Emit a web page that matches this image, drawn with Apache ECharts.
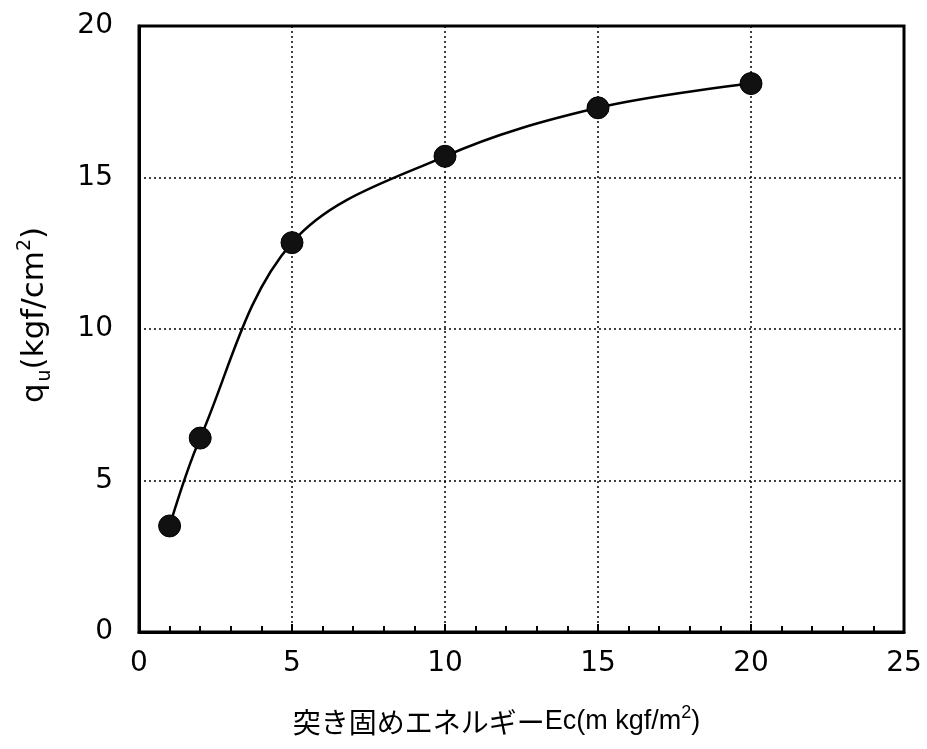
<!DOCTYPE html>
<html>
<head>
<meta charset="utf-8">
<script src="https://cdn.jsdelivr.net/npm/echarts@6/dist/echarts.min.js"></script>
<style>
  html, body { margin: 0; padding: 0; background: #fff; }
  #chart { width: 927px; height: 749px; }
</style>
</head>
<body>
<div id="chart"></div>
<script>
// Compaction energy vs. unconfined compressive strength
const energy = [1, 2, 5, 10, 15, 20];                  // Ec (m kgf/m2)
const strength = [3.5, 6.4, 12.85, 15.7, 17.3, 18.1];  // qu (kgf/cm2)
const xTicks = [0, 5, 10, 15, 20, 25];
const yTicks = [0, 5, 10, 15, 20];

const chart = echarts.init(document.getElementById('chart'), null, { renderer: 'canvas' });

const tickFont = '"DejaVu Sans", sans-serif';
const latinFont = '"Liberation Sans", Arial, sans-serif';
const cjkFont = '"Noto Sans CJK JP", sans-serif';

chart.setOption({
  animation: false,
  backgroundColor: '#fff',
  grid: {
    left: 139, right: 23, top: 26, bottom: 117,
    show: true, borderColor: '#000', borderWidth: 3
  },
  xAxis: {
    type: 'value',
    min: xTicks[0], max: xTicks[xTicks.length - 1], interval: 5,
    axisLine: { show: true, lineStyle: { color: '#000', width: 3 } },
    axisTick: { show: true, inside: true, length: 8, lineStyle: { color: '#000', width: 2 } },
    minorTick: { show: true, splitNumber: 5, length: 6, lineStyle: { color: '#000', width: 2 } },
    splitLine: { show: true, lineStyle: { color: '#000', width: 1.5, type: [2, 3] } },
    axisLabel: { color: '#000', fontSize: 28, fontFamily: tickFont, margin: 18 },
    name: '{c|突き固めエネルギー}{a|Ec(m kgf/m}{sup|2}{a|)}',
    nameLocation: 'middle',
    nameGap: 73,
    nameTextStyle: {
      padding: [0, 50, 0, 0],
      rich: {
        c: { fontSize: 28, fontFamily: cjkFont, color: '#000', lineHeight: 34 },
        a: { fontSize: 27, fontFamily: latinFont, color: '#000', lineHeight: 34 },
        sup: { fontSize: 18, fontFamily: latinFont, color: '#000', lineHeight: 34, padding: [0, 0, 18, 0] }
      }
    }
  },
  yAxis: {
    type: 'value',
    min: yTicks[0], max: yTicks[yTicks.length - 1], interval: 5,
    axisLine: { show: true, lineStyle: { color: '#000', width: 3 } },
    axisTick: { show: false },
    splitLine: { show: true, lineStyle: { color: '#000', width: 1.5, type: [2, 3] } },
    axisLabel: { color: '#000', fontSize: 28, fontFamily: tickFont, margin: 26 },
    name: '{a|q}{sub|u}{a|(kgf/cm}{sup|2}{a|)}',
    nameLocation: 'middle',
    nameRotate: 90,
    nameGap: 86,
    nameTextStyle: {
      padding: [0, 0, 0, 28],
      rich: {
        a: { fontSize: 31, fontFamily: tickFont, color: '#000', lineHeight: 36 },
        sub: { fontSize: 19, fontFamily: tickFont, color: '#000', lineHeight: 36, padding: [20, 0, 0, 2] },
        sup: { fontSize: 19, fontFamily: tickFont, color: '#000', lineHeight: 36, padding: [0, 0, 20, 0] }
      }
    }
  },
  series: [{
    type: 'line',
    data: energy.map((x, i) => [x, strength[i]]),
    smooth: 0.35,
    symbol: 'circle',
    symbolSize: 22,
    lineStyle: { color: '#000', width: 2.5 },
    itemStyle: { color: '#111', borderColor: '#000', borderWidth: 1 }
  }]
});
</script>
</body>
</html>
